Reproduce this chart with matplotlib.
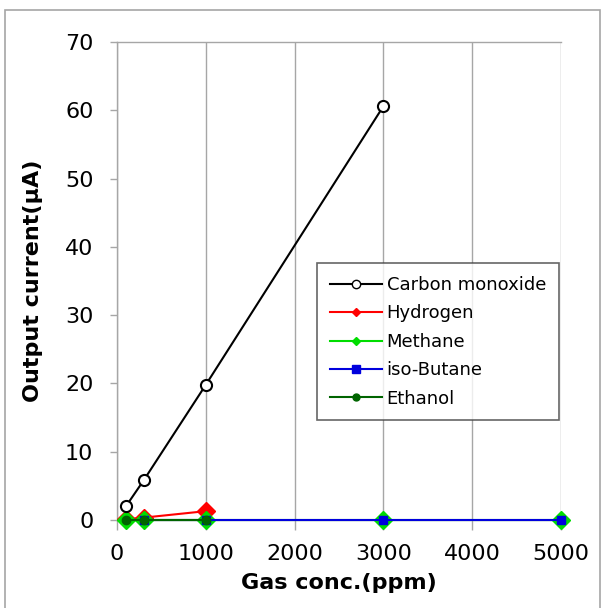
import matplotlib.pyplot as plt
from matplotlib.lines import Line2D
from matplotlib.patches import Rectangle

co_x = [100, 300, 1000, 3000]
co_y = [2.0, 5.8, 19.8, 60.6]
h2_x = [100, 300, 1000]
h2_y = [0.1, 0.35, 1.3]
ch4_x = [100, 300, 1000, 3000, 5000]
ch4_y = [0, 0, 0, 0, 0]
butane_x = [300, 1000, 3000, 5000]
butane_y = [0, 0, 0, 0]
ethanol_x = [100, 300, 1000]
ethanol_y = [0, 0, 0]

labels = ['Carbon monoxide', 'Hydrogen', 'Methane', 'iso-Butane', 'Ethanol']
colors = ['black', '#ff0000', '#00dd00', '#0000dd', '#006400']

fig = plt.figure(figsize=(6.04, 6.08), dpi=100)
ax = fig.add_axes([0.1937, 0.1447, 0.7351, 0.7862])

ax.plot(co_x, co_y, '-o', color=colors[0], mfc='white', mec='black', ms=8, mew=1.5, lw=1.5, zorder=5)
ax.plot(h2_x, h2_y, '-D', color=colors[1], ms=9.5, lw=1.5, zorder=3)
ax.plot(ch4_x, ch4_y, '-D', color=colors[2], ms=9.5, lw=1.5, zorder=3)
ax.plot(butane_x, butane_y, '-s', color=colors[3], ms=6, lw=1.5, zorder=4)
ax.plot(ethanol_x, ethanol_y, '-o', color=colors[4], ms=6, lw=1.5, zorder=4)

ax.set_xlim(0, 5000)
ax.set_ylim(0, 70)
ax.set_xticks(range(0, 5001, 1000))
ax.set_yticks(range(0, 71, 10))
ax.tick_params(axis='both', labelsize=16, color='#a6a6a6', width=1.0)
ax.tick_params(axis='x', length=7, pad=10)
ax.tick_params(axis='y', length=5, pad=12)
ax.grid(axis='x', color='#a6a6a6', lw=1.0)
for s in ['left', 'bottom', 'top']:
    ax.spines[s].set_color('#a6a6a6')
    ax.spines[s].set_linewidth(1.0)
ax.spines['right'].set_visible(False)
for line in ax.lines:
    line.set_clip_on(False)

ax.set_xlabel('Gas conc.(ppm)', fontsize=16, fontweight='bold', labelpad=7)
ax.set_ylabel('Output current(μA)', fontsize=16, fontweight='bold', labelpad=16)

handles = [
    Line2D([], [], color=colors[0], marker='o', mfc='white', mec='black', ms=6, lw=1.5),
    Line2D([], [], color=colors[1], marker='D', ms=4, lw=1.5),
    Line2D([], [], color=colors[2], marker='D', ms=4, lw=1.5),
    Line2D([], [], color=colors[3], marker='s', ms=6, lw=1.5),
    Line2D([], [], color=colors[4], marker='o', ms=5, lw=1.5),
]
leg = fig.legend(handles, labels, loc='upper left', bbox_to_anchor=(0.525, 0.567),
                 fontsize=13, frameon=True, fancybox=False, handlelength=2.9,
                 labelspacing=0.58, borderpad=0.7, handletextpad=0.25,
                 borderaxespad=0)
leg.get_frame().set_edgecolor('#404040')
leg.get_frame().set_linewidth(1.2)

fig.patches.append(Rectangle((5 / 604, -0.01), 595 / 604, 1 - 10 / 608 + 0.01,
                             transform=fig.transFigure, fill=False,
                             edgecolor='#a6a6a6', lw=1.2))

fig.savefig('out.png', dpi=100)
